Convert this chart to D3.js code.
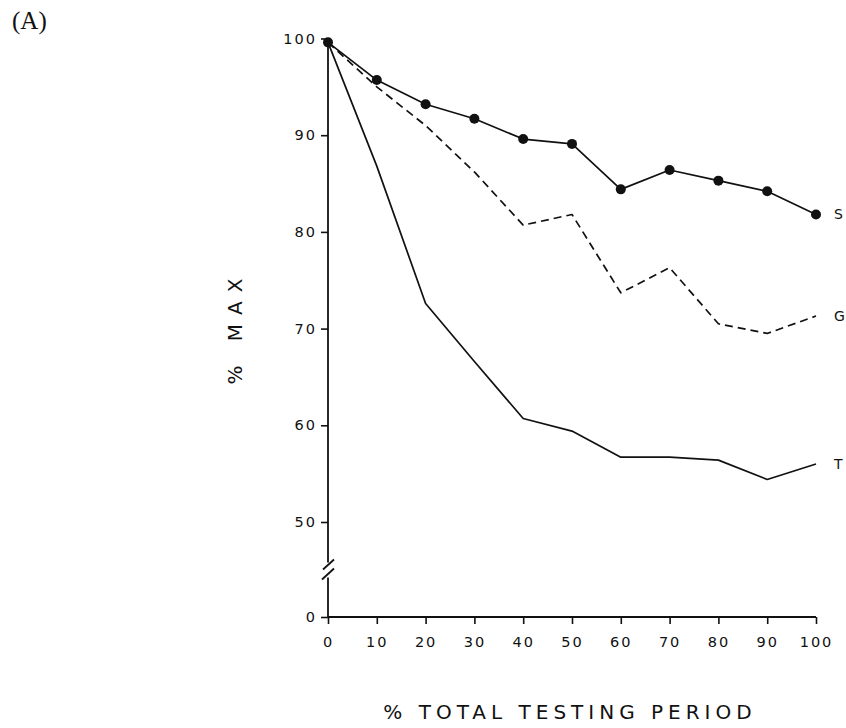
<!DOCTYPE html>
<html>
<head>
<meta charset="utf-8">
<script src="https://cdn.jsdelivr.net/npm/d3@7/dist/d3.min.js"></script>
<style>
  html, body { margin: 0; padding: 0; background: #fff; }
  svg { display: block; }
  .tick text { font-family: "DejaVu Sans", sans-serif; font-size: 14.5px; letter-spacing: 2px; fill: #111; }
</style>
</head>
<body>
<svg id="chart" width="846" height="728"></svg>
<script>
// Percent of total testing period (x) and percent of maximum (y) per condition
const period = [0, 10, 20, 30, 40, 50, 60, 70, 80, 90, 100];
const seriesS = [99.6, 95.7, 93.2, 91.7, 89.6, 89.1, 84.4, 86.4, 85.3, 84.2, 81.8];
const seriesG = [99.6, 95.0, 91.0, 86.2, 80.7, 81.8, 73.7, 76.3, 70.5, 69.5, 71.3];
const seriesT = [99.6, 86.8, 72.6, 66.6, 60.7, 59.4, 56.7, 56.7, 56.4, 54.4, 56.0];
const seriesNames = ["S", "G", "T"];
const xTicks = [0, 10, 20, 30, 40, 50, 60, 70, 80, 90, 100];
const yTicks = [0, 50, 60, 70, 80, 90, 100];

const svg = d3.select("#chart");

// x: linear; y: broken axis — 0..50 compressed, 50..100 full scale
const x = d3.scaleLinear().domain([0, 100]).range([328, 816]);
const y = d3.scaleLinear().domain([0, 50, 100]).range([617, 522, 38.5]);

const ink = "#111";

// Panel letter
svg.append("text")
  .attr("x", 12).attr("y", 29)
  .attr("font-family", "'Liberation Serif', 'DejaVu Serif', serif")
  .attr("font-size", 25)
  .attr("fill", ink)
  .text("(A)");

// Y axis (ticks + labels; the spine is drawn separately with a break)
const yAxis = svg.append("g")
  .attr("transform", `translate(${x(0)},0)`)
  .call(d3.axisLeft(y).tickValues(yTicks).tickSize(7).tickPadding(4).tickFormat(d3.format("d")));
yAxis.select(".domain").remove();
yAxis.selectAll(".tick line").attr("stroke", ink).attr("stroke-width", 1.6);

// X axis
const xAxis = svg.append("g")
  .attr("transform", `translate(0,${y(0)})`)
  .call(d3.axisBottom(x).tickValues(xTicks).tickSize(7).tickPadding(13).tickFormat(d3.format("d")));
xAxis.select(".domain").attr("stroke", ink).attr("stroke-width", 1.8)
  .attr("d", `M${x(0)},0H${x(100)}`);
xAxis.selectAll(".tick line").attr("stroke", ink).attr("stroke-width", 1.6);

// Y spine with break marks
const breakY = y(25);
const spine = svg.append("g").attr("stroke", ink).attr("stroke-width", 1.8).attr("fill", "none");
spine.append("line").attr("x1", x(0)).attr("x2", x(0)).attr("y1", y(100)).attr("y2", breakY - 7);
spine.append("line").attr("x1", x(0)).attr("x2", x(0)).attr("y1", breakY + 8).attr("y2", y(0));
spine.append("line").attr("x1", x(0) - 5).attr("y1", breakY).attr("x2", x(0) + 6).attr("y2", breakY - 10);
spine.append("line").attr("x1", x(0) - 6).attr("y1", breakY + 10).attr("x2", x(0) + 6).attr("y2", breakY - 1);
// small tick crossing the origin
spine.append("line").attr("x1", x(0)).attr("x2", x(0) + 5).attr("y1", y(0)).attr("y2", y(0));

// Lines
const line = d3.line().x((d, i) => x(period[i])).y(d => y(d));
const plot = svg.append("g").attr("fill", "none").attr("stroke", ink).attr("stroke-linejoin", "round");

plot.append("path").datum(seriesT).attr("d", line).attr("stroke-width", 1.7);
plot.append("path").datum(seriesG).attr("d", line).attr("stroke-width", 1.7)
  .attr("stroke-dasharray", "8,5");
plot.append("path").datum(seriesS).attr("d", line).attr("stroke-width", 1.7);

svg.append("g").selectAll("circle")
  .data(seriesS)
  .join("circle")
  .attr("cx", (d, i) => x(period[i]))
  .attr("cy", d => y(d))
  .attr("r", 5)
  .attr("fill", ink);

// Series end labels
const lastVals = [seriesS, seriesG, seriesT].map(s => s[s.length - 1]);
svg.append("g").selectAll("text")
  .data(seriesNames)
  .join("text")
  .attr("x", x(100) + 18)
  .attr("y", (d, i) => y(lastVals[i]) + 1)
  .attr("dominant-baseline", "middle")
  .attr("font-family", "'DejaVu Sans', sans-serif")
  .attr("font-size", 14)
  .attr("fill", ink)
  .text(d => d);

// Axis titles
svg.append("text")
  .attr("x", 570).attr("y", 719)
  .attr("text-anchor", "middle")
  .attr("font-family", "'DejaVu Sans', sans-serif")
  .attr("font-size", 20)
  .attr("letter-spacing", 5)
  .attr("fill", ink)
  .text("% TOTAL TESTING PERIOD");

svg.append("text")
  .attr("transform", "translate(242,327) rotate(-90)")
  .attr("text-anchor", "middle")
  .attr("font-family", "'DejaVu Sans', sans-serif")
  .attr("font-size", 20)
  .attr("letter-spacing", 9)
  .attr("fill", ink)
  .text("% MAX");
</script>
</body>
</html>
